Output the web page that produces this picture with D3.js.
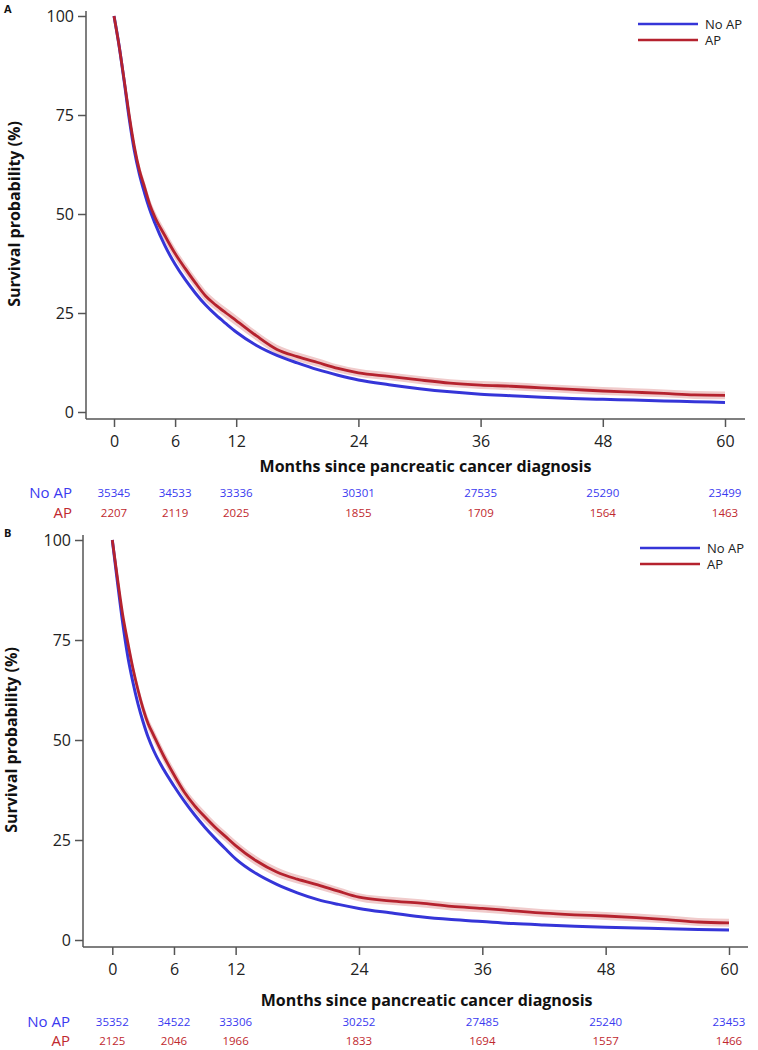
<!DOCTYPE html>
<html>
<head>
<meta charset="utf-8">
<script src="https://cdn.jsdelivr.net/npm/d3@7"></script>
<style>
  html, body { margin: 0; padding: 0; background: #fff; }
  svg { display: block; }
  text { font-family: "Open Sans", "Liberation Sans", sans-serif; }
</style>
</head>
<body>
<svg id="chart" width="758" height="1050"></svg>
<script>
// ---------------- DATA ----------------
const seriesNames = ["No AP", "AP"];
const xTicks = [0, 6, 12, 24, 36, 48, 60];
const yTicks = [0, 25, 50, 75, 100];
const xTitle = "Months since pancreatic cancer diagnosis";
const yTitle = "Survival probability (%)";

const months = [0, 0.5, 1, 1.5, 2, 2.5, 3, 3.5, 4, 5, 6, 7, 8, 9, 10, 11, 12, 14, 16, 18, 20, 22, 24, 27, 30, 33, 36, 39, 42, 45, 48, 51, 54, 57, 60];

// Panel A
const survNoAP_A = [100, 92.5, 83.5, 74, 66, 60, 55.3, 51.2, 47.8, 42, 37.3, 33.4, 30, 27, 24.5, 22.3, 20.2, 16.8, 14.3, 12.4, 10.7, 9.3, 8.1, 6.9, 5.9, 5.1, 4.5, 4.1, 3.7, 3.4, 3.2, 3.0, 2.8, 2.6, 2.4];
const survAP_A   = [100, 92.5, 83.8, 74.8, 67, 61, 56.8, 52.5, 49.3, 44.5, 40, 36.2, 32.6, 29.3, 27.0, 25.0, 23.1, 19.2, 15.8, 14.0, 12.5, 11.0, 9.9, 9.0, 8.1, 7.3, 6.8, 6.5, 6.1, 5.7, 5.3, 5.0, 4.7, 4.3, 4.2];
const ciLowAP_A  = [100, 91.7, 82.7, 73.5, 65.6, 59.5, 55.3, 51.0, 47.8, 43.0, 38.5, 34.8, 31.2, 27.9, 25.7, 23.7, 21.8, 18.0, 14.6, 12.9, 11.4, 10.0, 8.9, 8.0, 7.1, 6.3, 5.8, 5.5, 5.1, 4.7, 4.3, 4.0, 3.7, 3.3, 3.2];
const ciHighAP_A = [100, 93.3, 84.9, 76.1, 68.4, 62.5, 58.3, 54.0, 50.8, 46.0, 41.5, 37.6, 34.0, 30.7, 28.3, 26.3, 24.4, 20.4, 17.0, 15.1, 13.6, 12.0, 10.9, 10.0, 9.1, 8.3, 7.8, 7.5, 7.1, 6.7, 6.3, 6.0, 5.7, 5.3, 5.2];
const riskNoAP_A = [35345, 34533, 33336, 30301, 27535, 25290, 23499];
const riskAP_A   = [2207, 2119, 2025, 1855, 1709, 1564, 1463];

// Panel B
const survNoAP_B = [100, 89.5, 79.5, 71, 64.5, 59, 54.5, 50.6, 47.5, 42.6, 38.5, 34.7, 31.3, 28.2, 25.4, 22.8, 20.3, 16.6, 13.9, 11.8, 10.1, 8.9, 7.9, 6.8, 5.8, 5.1, 4.6, 4.1, 3.75, 3.45, 3.2, 3.0, 2.8, 2.65, 2.5];
const survAP_B   = [100, 90.5, 81.5, 74.5, 68, 62.5, 57.8, 54, 51.3, 46, 41.3, 37, 33.6, 30.8, 28.2, 25.9, 23.6, 19.8, 17, 15.2, 13.8, 12.2, 10.7, 9.8, 9.2, 8.4, 7.9, 7.3, 6.7, 6.3, 6.0, 5.6, 5.1, 4.5, 4.3];
const ciLowAP_B  = [100, 89.7, 80.4, 73.2, 66.6, 61.0, 56.3, 52.5, 49.8, 44.5, 39.8, 35.6, 32.2, 29.4, 26.9, 24.6, 22.3, 18.6, 15.8, 14.1, 12.7, 11.2, 9.7, 8.8, 8.2, 7.4, 6.9, 6.3, 5.7, 5.3, 5.0, 4.6, 4.1, 3.5, 3.3];
const ciHighAP_B = [100, 91.3, 82.6, 75.8, 69.4, 64.0, 59.3, 55.5, 52.8, 47.5, 42.8, 38.4, 35.0, 32.2, 29.5, 27.2, 24.9, 21.0, 18.2, 16.3, 14.9, 13.2, 11.7, 10.8, 10.2, 9.4, 8.9, 8.3, 7.7, 7.3, 7.0, 6.6, 6.1, 5.5, 5.3];
const riskNoAP_B = [35352, 34522, 33306, 30252, 27485, 25240, 23453];
const riskAP_B   = [2125, 2046, 1966, 1833, 1694, 1557, 1466];

// ---------------- STYLE / LAYOUT ----------------
const COL_NOAP = "#3535d8";
const COL_AP = "#b5222e";
const COL_BAND = "#f0cbcb";
const COL_NOAP_TXT = "#3a3af0";
const COL_AP_TXT = "#c0282e";
const AXIS_COL = "#555";

const svg = d3.select("#chart");

function drawPanel(p) {
  const g = svg.append("g");
  const x = d3.scaleLinear().domain([0, 60]).range([p.x0, p.x60]);
  const y = d3.scaleLinear().domain([0, 100]).range([p.y0, p.y100]);

  // panel letter
  g.append("text").attr("x", p.letterX).attr("y", p.letterY)
    .attr("font-size", 11).attr("font-weight", "bold").attr("fill", "#111").text(p.letter);

  // CI band
  const band = months.map((m, i) => ({ m, lo: p.ciLow[i], hi: p.ciHigh[i] }));
  g.append("path").datum(band)
    .attr("fill", COL_BAND)
    .attr("d", d3.area().curve(d3.curveMonotoneX).x(d => x(d.m)).y0(d => y(d.lo)).y1(d => y(d.hi)));

  const line = d3.line().curve(d3.curveMonotoneX).x(d => x(d.m)).y(d => y(d.v));
  g.append("path").datum(months.map((m, i) => ({ m, v: p.noAP[i] })))
    .attr("fill", "none").attr("stroke", COL_NOAP).attr("stroke-width", 3).attr("d", line);
  g.append("path").datum(months.map((m, i) => ({ m, v: p.ap[i] })))
    .attr("fill", "none").attr("stroke", COL_AP).attr("stroke-width", 2.8).attr("d", line);

  // axes lines (L shape)
  g.append("line").attr("x1", p.axisX).attr("x2", p.axisX).attr("y1", p.axisTop).attr("y2", p.axisY)
    .attr("stroke", AXIS_COL).attr("stroke-width", 1.5);
  g.append("line").attr("x1", p.axisX).attr("x2", p.axisRight).attr("y1", p.axisY).attr("y2", p.axisY)
    .attr("stroke", AXIS_COL).attr("stroke-width", 1.5);

  // y axis ticks
  const yAx = g.append("g").attr("transform", `translate(${p.axisX},0)`)
    .call(d3.axisLeft(y).tickValues(yTicks).tickSize(8).tickPadding(4));
  yAx.select(".domain").remove();
  yAx.selectAll(".tick line").attr("stroke", AXIS_COL).attr("stroke-width", 1.5);
  yAx.selectAll(".tick text").attr("font-size", 16).attr("fill", "#222")
    .attr("font-family", "Open Sans, sans-serif");

  // x axis ticks
  const xAx = g.append("g").attr("transform", `translate(0,${p.axisY})`)
    .call(d3.axisBottom(x).tickValues(xTicks).tickSize(8).tickPadding(9));
  xAx.select(".domain").remove();
  xAx.selectAll(".tick line").attr("stroke", AXIS_COL).attr("stroke-width", 1.5);
  xAx.selectAll(".tick text").attr("font-size", 16).attr("fill", "#222")
    .attr("font-family", "Open Sans, sans-serif");

  // titles
  g.append("text").attr("x", (p.x0 + p.x60) / 2 + 6).attr("y", p.xTitleY)
    .attr("text-anchor", "middle").attr("font-size", 16).attr("font-weight", "bold").attr("fill", "#111")
    .text(xTitle);
  g.append("text").attr("transform", `translate(${p.yTitleX},${(p.y0 + p.y100) / 2}) rotate(-90)`)
    .attr("text-anchor", "middle").attr("font-size", 16).attr("font-weight", "bold").attr("fill", "#111")
    .text(yTitle);

  // legend
  const leg = g.append("g");
  [[seriesNames[0], COL_NOAP], [seriesNames[1], COL_AP]].forEach((d, i) => {
    const ly = p.legY + i * p.legDy;
    leg.append("line").attr("x1", p.legX).attr("x2", p.legX + 60).attr("y1", ly).attr("y2", ly)
      .attr("stroke", d[1]).attr("stroke-width", 2.5);
    leg.append("text").attr("x", p.legX + 67).attr("y", ly).attr("dy", "0.35em")
      .attr("font-size", 13).attr("fill", "#222").text(d[0]);
  });

  // risk table
  const rows = [[seriesNames[0], p.riskNoAP, COL_NOAP_TXT, p.riskY1], [seriesNames[1], p.riskAP, COL_AP_TXT, p.riskY2]];
  rows.forEach(r => {
    g.append("text").attr("x", p.rowLabelX).attr("y", r[3]).attr("dy", "0.35em")
      .attr("text-anchor", "end").attr("font-size", 15).attr("fill", r[2]).text(r[0]);
    g.selectAll(null).data(xTicks).enter().append("text")
      .attr("x", d => x(d)).attr("y", r[3]).attr("dy", "0.35em")
      .attr("text-anchor", "middle").attr("font-size", 11.5).attr("fill", r[2])
      .text((d, i) => r[1][i]);
  });
}

drawPanel({
  letter: "A", letterX: 4, letterY: 13,
  x0: 114, x60: 725, y0: 412, y100: 16,
  axisX: 86, axisTop: 11, axisY: 419, axisRight: 745,
  xTitleY: 472, yTitleX: 20,
  legX: 638, legY: 24, legDy: 16,
  noAP: survNoAP_A, ap: survAP_A, ciLow: ciLowAP_A, ciHigh: ciHighAP_A,
  riskNoAP: riskNoAP_A, riskAP: riskAP_A,
  rowLabelX: 72, riskY1: 493, riskY2: 513
});

drawPanel({
  letter: "B", letterX: 4, letterY: 537,
  x0: 112.3, x60: 729, y0: 940, y100: 540,
  axisX: 83, axisTop: 535, axisY: 947, axisRight: 748,
  xTitleY: 1006, yTitleX: 17,
  legX: 640, legY: 548, legDy: 16,
  noAP: survNoAP_B, ap: survAP_B, ciLow: ciLowAP_B, ciHigh: ciHighAP_B,
  riskNoAP: riskNoAP_B, riskAP: riskAP_B,
  rowLabelX: 70, riskY1: 1022, riskY2: 1041
});
</script>
</body>
</html>
